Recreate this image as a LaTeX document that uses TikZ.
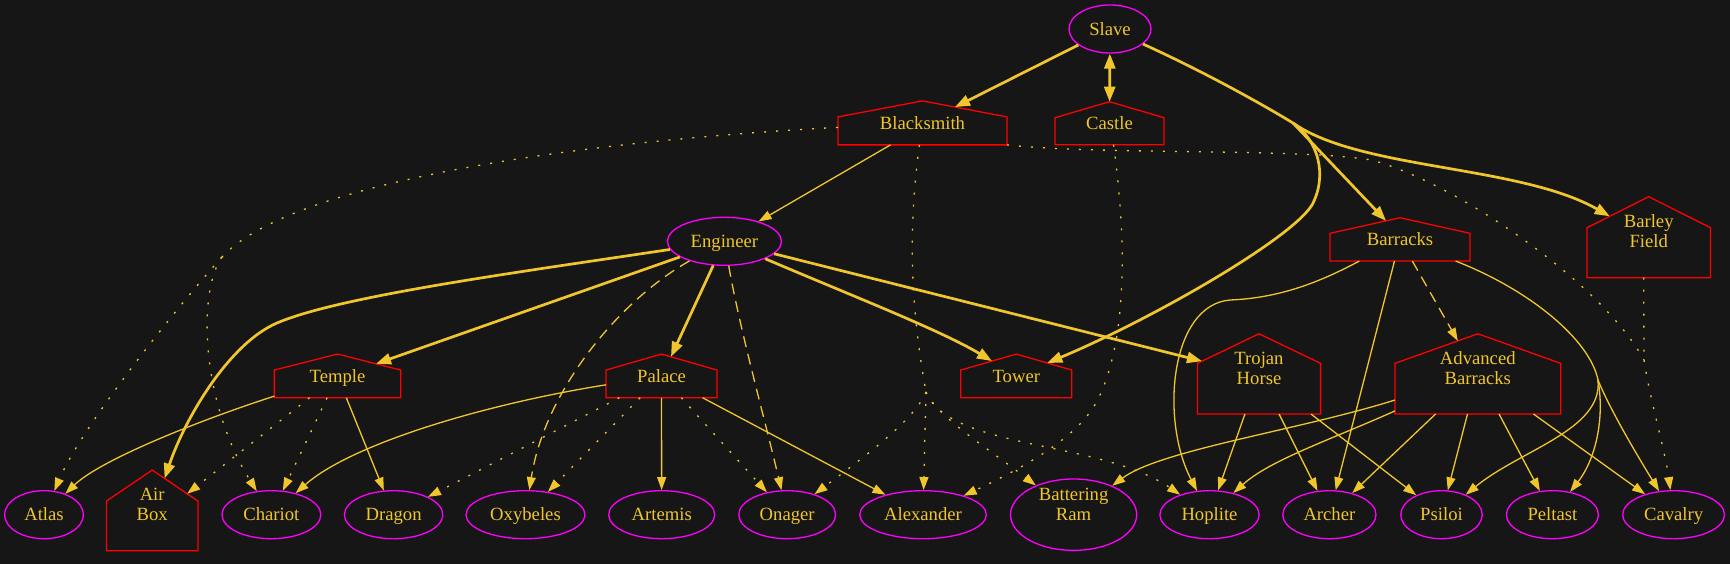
\documentclass[tikz,border=0pt]{standalone}
\usepackage{fontspec}
\setmainfont{Liberation Serif}
\usetikzlibrary{shapes.geometric,arrows.meta,calc}
\definecolor{bg}{RGB}{22,22,22}
\definecolor{gold}{RGB}{240,198,44}
\definecolor{mag}{RGB}{255,0,255}
\definecolor{hred}{RGB}{255,0,0}
\begin{document}
\begin{tikzpicture}[x=1pt,y=-1pt,
  every node/.style={text=gold, font=\fontsize{18.67}{20}\selectfont},
  ell/.style={ellipse, draw=mag, line width=1.3pt, inner sep=0pt, minimum height=48pt},
  hs/.style={rectangle, draw=none, inner sep=0pt, outer sep=0pt},
  lone/.style={text height=12.4pt, text depth=0pt},
  ltwo/.style={align=center, text height=12.4pt},
  ltwoh/.style={align=center, text height=20.4pt},
  houseline/.style={draw=hred, line width=1.3pt, line join=miter},
  ethin/.style={draw=gold, line width=1.3pt, -{Triangle[length=13pt,width=9pt]}},
  ethick/.style={draw=gold, line width=2.7pt, -{Triangle[length=15pt,width=11pt]}},
  edash/.style={ethin, dash pattern=on 11pt off 7pt},
  edot/.style={ethin, dash pattern=on 2pt off 10pt}]
\fill[bg] (0,0) rectangle (1730,564);
\useasboundingbox (0,0) rectangle (1730,564);

% ellipse nodes
\node[ell,lone,minimum width=82pt] (slave) at (1110,29) {Slave};
\node[ell,lone,minimum width=114pt] (engineer) at (724.4,241.3) {Engineer};
\node[ell,lone,minimum width=78.8pt] (atlas) at (44,514.7) {Atlas};
\node[ell,lone,minimum width=98.8pt] (chariot) at (271.4,514.7) {Chariot};
\node[ell,lone,minimum width=98.4pt] (dragon) at (393.6,514.7) {Dragon};
\node[ell,lone,minimum width=119pt] (oxybeles) at (525.5,514.7) {Oxybeles};
\node[ell,lone,minimum width=106pt] (artemis) at (661.7,514.7) {Artemis};
\node[ell,lone,minimum width=96.8pt] (onager) at (787.2,514.7) {Onager};
\node[ell,lone,minimum width=126.6pt] (alexander) at (923,514.7) {Alexander};
\node[ell,ltwo,minimum width=126.2pt,minimum height=71.4pt] (battering) at (1073.6,514.7) {Battering\\Ram};
\node[ell,lone,minimum width=99.2pt] (hoplite) at (1209.5,514.7) {Hoplite};
\node[ell,lone,minimum width=93.2pt] (archer) at (1329.4,514.7) {Archer};
\node[ell,lone,minimum width=81.4pt] (psiloi) at (1441.5,514.7) {Psiloi};
\node[ell,lone,minimum width=92pt] (peltast) at (1552.4,514.7) {Peltast};
\node[ell,lone,minimum width=101.8pt] (cavalry) at (1673.6,514.7) {Cavalry};

% house nodes
\node[hs,lone,minimum width=169pt,minimum height=44pt] (blacksmith) at (922.5,122.9) {Blacksmith};
\node[hs,lone,minimum width=109pt,minimum height=43pt] (castle) at (1109.5,123.2) {Castle};
\node[hs,lone,minimum width=140pt,minimum height=43.3pt] (barracks) at (1400,239.4) {Barracks};
\node[hs,ltwoh,minimum width=123.5pt,minimum height=81pt] (barley) at (1648.7,237.2) {Barley\\Field};
\node[hs,lone,minimum width=126.3pt,minimum height=43.7pt] (temple) at (337.5,375.9) {Temple};
\node[hs,lone,minimum width=111pt,minimum height=43.7pt] (palace) at (661.5,375.9) {Palace};
\node[hs,lone,minimum width=111pt,minimum height=43.7pt] (tower) at (1016.3,375.9) {Tower};
\node[hs,ltwoh,minimum width=123.2pt,minimum height=80.3pt] (trojan) at (1259,373.9) {Trojan\\Horse};
\node[hs,ltwoh,minimum width=165.7pt,minimum height=80.3pt] (advbarracks) at (1477.8,373.9) {Advanced\\Barracks};
\node[hs,ltwoh,minimum width=91.5pt,minimum height=80.7pt] (airbox) at (152.2,510.4) {Air\\Box};

\foreach \n/\r in {blacksmith/16pt,castle/16pt,barracks/15.6pt,barley/31pt,temple/16pt,palace/16pt,tower/16pt,trojan/29.6pt,advbarracks/29.6pt,airbox/31pt}
  \draw[houseline] (\n.south west) -- ([yshift=-\r]\n.north west) -- (\n.north) -- ([yshift=-\r]\n.north east) -- (\n.south east) -- cycle;

% junction points
\coordinate (j1) at (1293,123);
\coordinate (j2) at (222,257);
\coordinate (j3) at (926,392);
\coordinate (j4) at (1644,360);
\coordinate (j5) at (1598,380);

% Slave
\draw[ethick] (slave) -- ($(blacksmith.north)+(32.5,6.2)$);
\draw[ethick,{Triangle[length=15pt,width=11pt]}-{Triangle[length=15pt,width=11pt]}] (slave) -- (castle);
\draw[ethick,-] (slave) .. controls (1200,70) and (1255,100) .. (j1);
\draw[ethick] (j1) .. controls (1318,140) and (1328,175) .. (1312,205) .. controls (1290,240) and (1150,320) .. ($(tower.north)+(31,8.9)$);
\draw[ethick] (j1) -- ($(barracks.north)+(-14,3.1)$);
\draw[ethick] (j1) .. controls (1360,170) and (1520,165) .. ($(barley.north)+(-39,19.6)$);

% Blacksmith
\draw[ethin] ($(blacksmith.south)+(-32,0)$) -- (engineer);
\draw[edot,-] (blacksmith) .. controls (600,140) and (295,178) .. (j2);
\draw[edot] (j2) .. controls (190,292) and (85,420) .. (atlas);
\draw[edot] (j2) .. controls (198,290) and (200,400) .. (chariot);
\draw[edot,-] (blacksmith) .. controls (905,250) and (915,330) .. (j3);
\draw[edot] (j3) .. controls (915,420) and (860,460) .. (onager);
\draw[edot] (j3) -- (alexander);
\draw[edot] (j3) .. controls (935,415) and (990,450) .. (battering);
\draw[edot] (j3) .. controls (950,450) and (1100,440) .. (hoplite);
\draw[edot,-] (blacksmith.south east) .. controls (1100,155) and (1300,148) .. (1371,160) .. controls (1450,180) and (1600,280) .. (j4);
\draw[edot,-] ($(barley.south)+(-5,0)$) -- (j4);
\draw[edot] (j4) .. controls (1650,400) and (1665,450) .. (cavalry);

% Castle
\draw[edot] ($(castle.south)+(4,0)$) .. controls (1128,250) and (1125,340) .. (1100,395) .. controls (1085,430) and (1040,460) .. (alexander);

% Engineer
\draw[ethick] (engineer) .. controls (520,272) and (340,296) .. (277,323) .. controls (230,343) and (186,416) .. ($(airbox.north)+(12.4,8.4)$);
\draw[ethick] (engineer) -- ($(temple.north)+(38.5,9.75)$);
\draw[edash] (engineer) .. controls (620,300) and (545,390) .. (oxybeles);
\draw[ethick] (engineer) -- ($(palace.north)+(9.5,2.7)$);
\draw[edash] (engineer) .. controls (740,330) and (765,420) .. (onager);
\draw[ethick] (engineer) .. controls (850,295) and (940,330) .. ($(tower.north)+(-24.3,7)$);
\draw[ethick] (engineer) -- ($(trojan.north)+(-57,27.4)$);

% Temple
\draw[ethin] (temple) .. controls (200,420) and (100,460) .. (atlas);
\draw[edot] (temple) -- ($(airbox.north)+(35,23.7)$);
\draw[edot] (temple) -- (chariot);
\draw[ethin] (temple) -- (dragon);

% Palace
\draw[ethin] (palace) .. controls (480,405) and (350,445) .. (chariot);
\draw[edot] (palace) -- (dragon);
\draw[edot] (palace) -- (oxybeles);
\draw[ethin] (palace) -- (artemis);
\draw[edot] (palace) -- (onager);
\draw[ethin] (palace) -- (alexander);

% Barracks
\draw[ethin] (barracks) .. controls (1320,282) and (1280,298) .. (1230,300) .. controls (1170,305) and (1160,420) .. (hoplite);
\draw[ethin] (barracks) -- (archer);
\draw[edash] (barracks) -- ($(advbarracks.north)+(-20,7.15)$);
\draw[ethin,-] (barracks) .. controls (1530,290) and (1590,340) .. (j5);
\draw[ethin] (j5) .. controls (1603,430) and (1520,450) .. (psiloi);
\draw[ethin] (j5) .. controls (1605,420) and (1595,460) .. (peltast);
\draw[ethin] (j5) .. controls (1610,410) and (1640,460) .. (cavalry);

% Trojan Horse
\draw[ethin] (trojan) -- (hoplite);
\draw[ethin] (trojan) -- (archer);
\draw[ethin] (trojan) -- (psiloi);

% Advanced Barracks
\draw[ethin] (advbarracks) .. controls (1300,430) and (1160,450) .. (battering);
\draw[ethin] (advbarracks) .. controls (1330,440) and (1270,460) .. (hoplite);
\draw[ethin] (advbarracks) -- (archer);
\draw[ethin] (advbarracks) -- (psiloi);
\draw[ethin] (advbarracks) -- (peltast);
\draw[ethin] (advbarracks) -- (cavalry);
\end{tikzpicture}
\end{document}
